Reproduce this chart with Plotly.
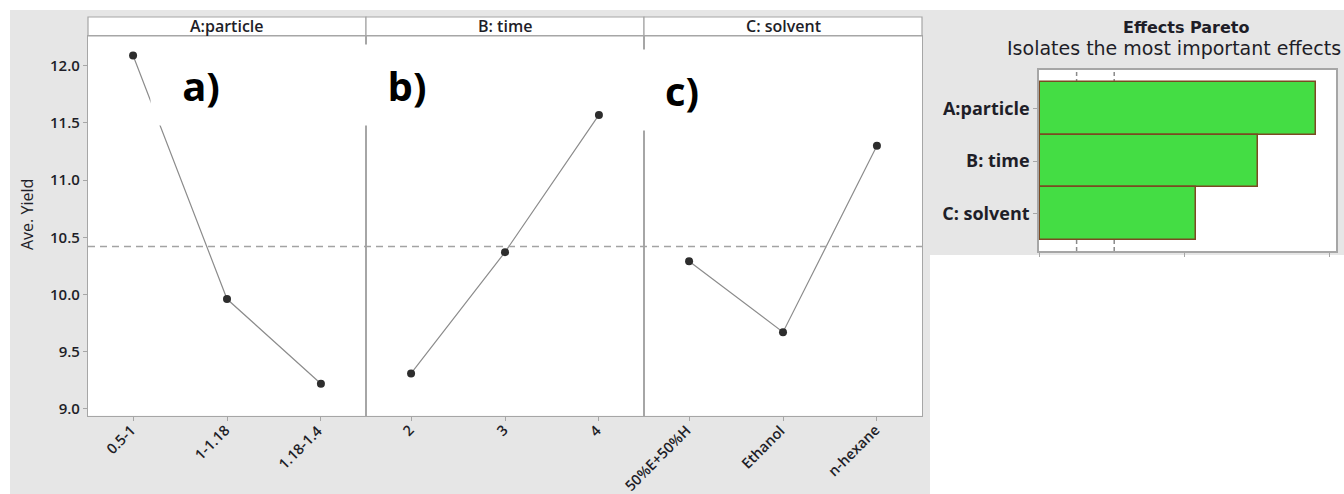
import numpy as np
import plotly.graph_objects as go

# Main-effects data: average yield at each factor level
particle_levels = ["0.5-1", "1-1.18", "1.18-1.4"]
particle_yield = [12.09, 9.96, 9.22]

time_levels = ["2", "3", "4"]
time_yield = [9.31, 10.37, 11.57]

solvent_levels = ["50%E+50%H", "Ethanol", "n-hexane"]
solvent_yield = [10.29, 9.67, 11.30]

panel_titles = ["A:particle", "B: time", "C: solvent"]
panel_tags = ["a)", "b)", "c)"]
y_ticks = [9.0, 9.5, 10.0, 10.5, 11.0, 11.5, 12.0]

# Pareto of effects (range of the level means) and reference limits
pareto_factors = ["A:particle", "B: time", "C: solvent"]
pareto_effects = [2.86, 2.26, 1.62]
pareto_limits = [0.38, 0.77]
pareto_ticks = [0, 1.5, 3.0]

grand_mean = float(np.mean(particle_yield + time_yield + solvent_yield))

W, H = 1344, 494


def px(x):
    return x / W


def py(y):
    return 1 - y / H


GRAY_BG = "#e6e6e6"
FRAME = "#a6a6a6"
TXT = "#1e1e28"
FONT = "Open Sans"

fig = go.Figure()

# Effect lines for the three factors
series = [(particle_levels, particle_yield), (time_levels, time_yield), (solvent_levels, solvent_yield)]
for i, (lv, yv) in enumerate(series):
    sfx = "" if i == 0 else str(i + 1)
    fig.add_trace(go.Scatter(
        x=lv, y=yv, mode="lines+markers",
        line=dict(color="#8c8c8c", width=1.2),
        marker=dict(size=8, color="#2d2d2d"),
        xaxis="x" + sfx, yaxis="y" + sfx, hoverinfo="skip",
    ))

# Pareto bars
fig.add_trace(go.Bar(
    x=pareto_effects, y=pareto_factors, orientation="h",
    marker=dict(color="#44dd44", line=dict(color="#7b4a22", width=1.5)),
    width=1.0, xaxis="x4", yaxis="y4", hoverinfo="skip",
))

# Panel geometry (pixels)
panel_x = [(88, 366), (366, 644), (644, 922)]
plot_top, plot_bot = 36, 415.7
y_range = [8.94, 12.26]

ytick_font = dict(family=FONT, size=15, color=TXT, weight=600)
xtick_font = dict(family=FONT, size=14.5, color=TXT, weight=600)
layout = dict(
    width=W, height=H, margin=dict(l=0, r=0, t=0, b=0, autoexpand=False),
    paper_bgcolor="white", plot_bgcolor="rgba(0,0,0,0)",
    showlegend=False, bargap=0,
)
for i, (x0, x1) in enumerate(panel_x):
    sfx = "" if i == 0 else str(i + 1)
    layout["xaxis" + sfx] = dict(
        domain=[px(x0), px(x1)], anchor="y" + sfx, type="category", automargin=False,
        range=[-0.48, 2.48], showline=True, mirror=True, linecolor=FRAME, linewidth=1.2,
        showgrid=False, zeroline=False, ticks="outside", ticklen=4, tickcolor=FRAME,
        showticklabels=False,
    )
    layout["yaxis" + sfx] = dict(
        domain=[py(plot_bot), py(plot_top)], anchor="x" + sfx, range=y_range, automargin=False,
        tickvals=y_ticks, tickformat=".1f", showticklabels=(i == 0),
        ticks="outside" if i == 0 else "", ticklen=4, tickcolor=FRAME,
        showline=True, mirror=True, linecolor=FRAME, linewidth=1.2,
        showgrid=False, zeroline=False, tickfont=ytick_font,
    )

# Pareto axes
layout["xaxis4"] = dict(
    domain=[px(1039), px(1336)], anchor="y4", range=[-0.01, 3.07], automargin=False,
    tickvals=pareto_ticks, showticklabels=False, ticks="outside", ticklen=4, tickcolor=FRAME,
    showline=True, mirror=True, linecolor=FRAME, linewidth=1.5, showgrid=False, zeroline=False,
)
layout["yaxis4"] = dict(
    domain=[py(251), py(70)], anchor="x4", type="category", automargin=False,
    categoryorder="array", categoryarray=pareto_factors, range=[2.71, -0.73],
    ticks="outside", ticklen=4, tickcolor=FRAME,
    showline=True, mirror=True, linecolor=FRAME, linewidth=1.5, showgrid=False, zeroline=False,
    tickfont=dict(family=FONT, size=18, color=TXT, weight=700),
)
fig.update_layout(**layout)

shapes = []
# Gray backgrounds of the two chart panes
shapes.append(dict(type="rect", xref="paper", yref="paper", x0=px(10), x1=px(930), y0=0, y1=py(10),
                   fillcolor=GRAY_BG, line_width=0, layer="below"))
shapes.append(dict(type="rect", xref="paper", yref="paper", x0=px(930), x1=1, y0=py(255), y1=py(10),
                   fillcolor=GRAY_BG, line_width=0, layer="below"))
# White plot areas
shapes.append(dict(type="rect", xref="paper", yref="paper", x0=px(88), x1=px(922),
                   y0=py(plot_bot), y1=py(plot_top), fillcolor="white", line_width=0, layer="below"))
shapes.append(dict(type="rect", xref="paper", yref="paper", x0=px(1039), x1=px(1336),
                   y0=py(251), y1=py(70), fillcolor="white", line_width=0, layer="below"))
# Header strips above each panel
for (x0, x1) in panel_x:
    shapes.append(dict(type="rect", xref="paper", yref="paper", x0=px(x0), x1=px(x1),
                       y0=py(plot_top), y1=py(17), fillcolor="white",
                       line=dict(color=FRAME, width=1.2), layer="below"))
# Grand-mean reference line
shapes.append(dict(type="line", xref="paper", yref="y", x0=px(88), x1=px(922),
                   y0=grand_mean, y1=grand_mean,
                   line=dict(color="#a3a3a3", width=1.5, dash="7px,5px"), layer="above"))
# Pareto reference limits
for v in pareto_limits:
    shapes.append(dict(type="line", xref="x4", yref="paper", x0=v, x1=v, y0=py(251), y1=py(70),
                       line=dict(color="#8a8a8a", width=1.5, dash="4px,3px"), layer="below"))
fig.update_layout(shapes=shapes)

ann = []
# Slanted level labels under each panel, placed at the category index on each axis
for i, (lv, _) in enumerate(series):
    xr = "x" if i == 0 else "x" + str(i + 1)
    for j, lab in enumerate(lv):
        ann.append(dict(text=lab, x=j, xref=xr, y=py(418), yref="paper",
                        xanchor="right", yanchor="top", xshift=9, textangle=-45,
                        showarrow=False, font=xtick_font))
for (x0, x1), t in zip(panel_x, panel_titles):
    ann.append(dict(text=t, x=px((x0 + x1) / 2), y=py(26.5), xref="paper", yref="paper",
                    xanchor="center", yanchor="middle", showarrow=False,
                    font=dict(family=FONT, size=16, color=TXT, weight=600)))
# Panel tags on white boxes
tag_boxes = [(150, 44), (356, 44), (631, 49)]
for (bx, by), t in zip(tag_boxes, panel_tags):
    ann.append(dict(text=t, x=px(bx), y=py(by), xref="paper", yref="paper",
                    xanchor="left", yanchor="top", width=100, height=80, align="center",
                    valign="middle", bgcolor="white", borderpad=0, showarrow=False,
                    font=dict(family=FONT, size=40, color="black", weight=700)))
ann.append(dict(text="Ave. Yield", x=px(27), y=py(215), xref="paper", yref="paper",
                xanchor="center", yanchor="middle", textangle=-90, showarrow=False,
                font=dict(family=FONT, size=16, color=TXT)))
ann.append(dict(text="Effects Pareto", x=px(1186), y=py(28), xref="paper", yref="paper",
                xanchor="center", yanchor="middle", showarrow=False,
                font=dict(family="DejaVu Sans", size=16, color=TXT, weight=700)))
ann.append(dict(text="Isolates the most important effects", x=px(1005), y=py(48),
                xref="paper", yref="paper", xanchor="left", yanchor="middle", showarrow=False,
                font=dict(family="DejaVu Sans", size=19, color=TXT)))
fig.update_layout(annotations=ann)

fig.write_html("out.html")
